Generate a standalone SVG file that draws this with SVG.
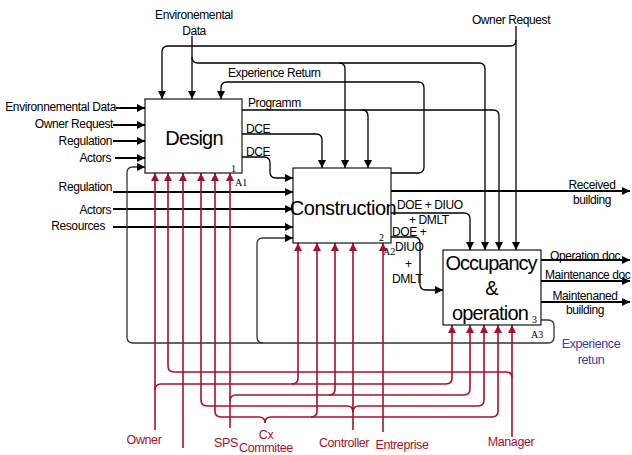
<svg xmlns="http://www.w3.org/2000/svg" width="632" height="455" viewBox="0 0 632 455">
<defs>
<marker id="ab" markerUnits="userSpaceOnUse" markerWidth="9" markerHeight="8" refX="8" refY="4" orient="auto"><path d="M0,0 L8,4 L0,8 z" fill="#000"/></marker>
<marker id="ar" markerUnits="userSpaceOnUse" markerWidth="9" markerHeight="8" refX="8" refY="4" orient="auto"><path d="M0,0 L8,4 L0,8 z" fill="#a8102e"/></marker>
<style>
.box{fill:#fff;stroke:#000;stroke-width:1.1}
.t{font-family:"Liberation Sans",Arial,sans-serif;font-size:12px;letter-spacing:-0.4px;fill:#000}
.big{font-family:"Liberation Sans",Arial,sans-serif;font-size:20px;fill:#000}
.num{font-family:"Liberation Serif","Times New Roman",serif;font-size:10px;fill:#000}
.rt{font-family:"Liberation Sans",Arial,sans-serif;font-size:12.5px;letter-spacing:-0.4px;fill:#a8102e}
.bt{font-family:"Liberation Sans",Arial,sans-serif;font-size:12.5px;letter-spacing:-0.4px;fill:#3c3ca8}
.k{fill:none;stroke:#000;stroke-width:1.3}
.kb{fill:none;stroke:#000;stroke-width:2}
.g{fill:none;stroke:#333;stroke-width:1.3}
.r{fill:none;stroke:#a8102e;stroke-width:1.6}
</style>
</defs>

<g id="connectors">
<!-- left inputs to Design -->
<path class="kb" d="M116,108 H145" marker-end="url(#ab)"/>
<path class="kb" d="M113,125 H145" marker-end="url(#ab)"/>
<path class="kb" d="M113,141 H145" marker-end="url(#ab)"/>
<path class="kb" d="M115,158 H145" marker-end="url(#ab)"/>
<!-- left inputs to Construction -->
<path class="kb" d="M113,192 H293" marker-end="url(#ab)"/>
<path class="kb" d="M113,209 H293" marker-end="url(#ab)"/>
<path class="kb" d="M113,227 H293" marker-end="url(#ab)"/>
<!-- top: Environmental data -->
<path class="k" d="M192,36 V99" marker-end="url(#ab)"/>
<path class="k" d="M192,57 Q192,63 198,63 H479 Q485,63 485,69 V250" marker-end="url(#ab)"/>
<path class="k" d="M339,63 Q345,63 345,69 V168" marker-end="url(#ab)"/>
<!-- top: Owner request -->
<path class="k" d="M516,26 V250" marker-end="url(#ab)"/>
<path class="k" d="M516,40 Q516,46 510,46 H168 Q162,46 162,52 V99" marker-end="url(#ab)"/>
<!-- Experience return -->
<path class="k" d="M391,173 H418 Q424,173 424,167 V88 Q424,82 418,82 H227 Q221,82 221,88 V99" marker-end="url(#ab)"/>
<!-- Programm -->
<path class="k" d="M242,110 H493 Q499,110 499,116 V250" marker-end="url(#ab)"/>
<path class="k" d="M362,110 Q368,110 368,116 V168" marker-end="url(#ab)"/>
<!-- DCE -->
<path class="k" d="M242,134 H316 Q322,134 322,140 V168" marker-end="url(#ab)"/>
<path class="k" d="M242,157 H264 Q270,157 270,163 V172 Q270,178 276,178 H293" marker-end="url(#ab)"/>
<!-- Construction outputs -->
<path class="kb" d="M391,191 H630" marker-end="url(#ab)"/>
<path class="k" d="M391,213 H464 Q470,213 470,219 V250" marker-end="url(#ab)"/>
<path class="k" d="M391,237 H414 Q420,237 420,243 V284 Q420,290 426,290 H443" marker-end="url(#ab)"/>
<!-- Occupancy outputs -->
<path class="kb" d="M541,260 H630" marker-end="url(#ab)"/>
<path class="kb" d="M541,281 H630" marker-end="url(#ab)"/>
<path class="kb" d="M541,302 H630" marker-end="url(#ab)"/>
<!-- feedback loop -->
<path class="g" d="M541,320 H548 Q554,320 554,326 V337 Q554,343 548,343 H133 Q127,343 127,337 V173 Q127,167 133,167 H145" marker-end="url(#ab)"/>
<path class="g" d="M263,343 Q257,343 257,337 V244 Q257,238 263,238 H293" marker-end="url(#ab)"/>

<!-- red controls -->
<!-- Owner -->
<path class="r" d="M155,430 V173" marker-end="url(#ar)"/>
<path class="r" d="M155,390 Q155,384 161,384 H292 Q298,384 298,378 V243" marker-end="url(#ar)"/>
<path class="r" d="M292,384 H446 Q452,384 452,378 V325" marker-end="url(#ar)"/>
<!-- Manager -->
<path class="r" d="M512,437 V325" marker-end="url(#ar)"/>
<path class="r" d="M512,378 Q512,372 506,372 H174 Q168,372 168,366 V173" marker-end="url(#ar)"/>
<!-- unlabeled -->
<path class="r" d="M183,448 V173" marker-end="url(#ar)"/>
<!-- SPS -->
<path class="r" d="M230,428 V173" marker-end="url(#ar)"/>
<path class="r" d="M230,401 Q230,395 236,395 H329 Q335,395 335,389 V243" marker-end="url(#ar)"/>
<path class="r" d="M329,395 H464 Q470,395 470,389 V325" marker-end="url(#ar)"/>
<!-- Controller -->
<path class="r" d="M353,430 V243" marker-end="url(#ar)"/>
<path class="r" d="M353,412 Q353,406 347,406 H207 Q201,406 201,400 V173" marker-end="url(#ar)"/>
<path class="r" d="M353,412 Q353,406 359,406 H478 Q484,406 484,400 V325" marker-end="url(#ar)"/>
<!-- Cx Commitee -->
<path class="r" d="M265,423 Q265,417 259,417 H221 Q215,417 215,411 V173" marker-end="url(#ar)"/>
<path class="r" d="M265,423 Q265,417 271,417 H311 Q317,417 317,411 V243" marker-end="url(#ar)"/>
<path class="r" d="M311,417 H492 Q498,417 498,411 V325" marker-end="url(#ar)"/>
<!-- Entreprise -->
<path class="r" d="M383,432 V243" marker-end="url(#ar)"/>
</g>

<g id="design">
<rect class="box" x="145" y="99" width="97" height="74"/>
<text class="big" x="194" y="145" text-anchor="middle" letter-spacing="-0.8">Design</text>
<text class="num" x="231" y="172" font-size="9">1</text>
<text class="num" x="235" y="186">A1</text>
</g>

<g id="construction">
<rect class="box" x="293" y="168" width="98" height="75"/>
<text class="big" x="343" y="215" text-anchor="middle" letter-spacing="-0.5">Construction</text>
<text class="num" x="379" y="241" font-size="9">2</text>
<text class="num" x="383" y="255" font-size="8.5">A2</text>
</g>

<g id="occupancy">
<rect class="box" x="443" y="250" width="98" height="75"/>
<text class="big" x="491" y="270" text-anchor="middle" letter-spacing="-1">Occupancy</text>
<text class="big" x="492" y="295" text-anchor="middle">&amp;</text>
<text class="big" x="490" y="320" text-anchor="middle" letter-spacing="-0.8">operation</text>
<text class="num" x="532" y="323" font-size="9">3</text>
<text class="num" x="531" y="338">A3</text>
</g>

<g id="labels">
<text class="t" x="116" y="111" text-anchor="end">Environnemental Data</text>
<text class="t" x="113" y="128" text-anchor="end">Owner  Request</text>
<text class="t" x="112" y="145" text-anchor="end">Regulation</text>
<text class="t" x="111" y="162" text-anchor="end">Actors</text>
<text class="t" x="112" y="191" text-anchor="end">Regulation</text>
<text class="t" x="111" y="214" text-anchor="end">Actors</text>
<text class="t" x="105" y="230" text-anchor="end">Resources</text>
<text class="t" x="194" y="19" text-anchor="middle">Environemental</text>
<text class="t" x="194" y="35" text-anchor="middle">Data</text>
<text class="t" x="511" y="24" text-anchor="middle">Owner Request</text>
<text class="t" x="228" y="77">Experience Return</text>
<text class="t" x="248" y="107">Programm</text>
<text class="t" x="246" y="133">DCE</text>
<text class="t" x="246" y="156">DCE</text>
<text class="t" x="592" y="189" text-anchor="middle">Received</text>
<text class="t" x="592" y="204" text-anchor="middle">building</text>
<text class="t" x="397" y="209">DOE + DIUO</text>
<text class="t" x="409" y="224">+ DMLT</text>
<text class="t" x="392" y="236">DOE +</text>
<text class="t" x="395" y="251">DIUO</text>
<text class="t" x="405" y="268">+</text>
<text class="t" x="392" y="283">DMLT</text>
<text class="t" x="550" y="260">Operation doc</text>
<text class="t" x="545" y="279">Maintenance doc</text>
<text class="t" x="585" y="300" text-anchor="middle">Maintenaned</text>
<text class="t" x="585" y="314" text-anchor="middle">building</text>
<text class="bt" x="591" y="348" text-anchor="middle">Experience</text>
<text class="bt" x="591" y="364" text-anchor="middle">retun</text>
<text class="rt" x="144" y="444" text-anchor="middle">Owner</text>
<text class="rt" x="226" y="447" text-anchor="middle">SPS</text>
<text class="rt" x="266" y="439" text-anchor="middle">Cx</text>
<text class="rt" x="266" y="452" text-anchor="middle">Commitee</text>
<text class="rt" x="344" y="447" text-anchor="middle">Controller</text>
<text class="rt" x="402" y="449" text-anchor="middle">Entreprise</text>
<text class="rt" x="511" y="446" text-anchor="middle">Manager</text>
</g>
</svg>
